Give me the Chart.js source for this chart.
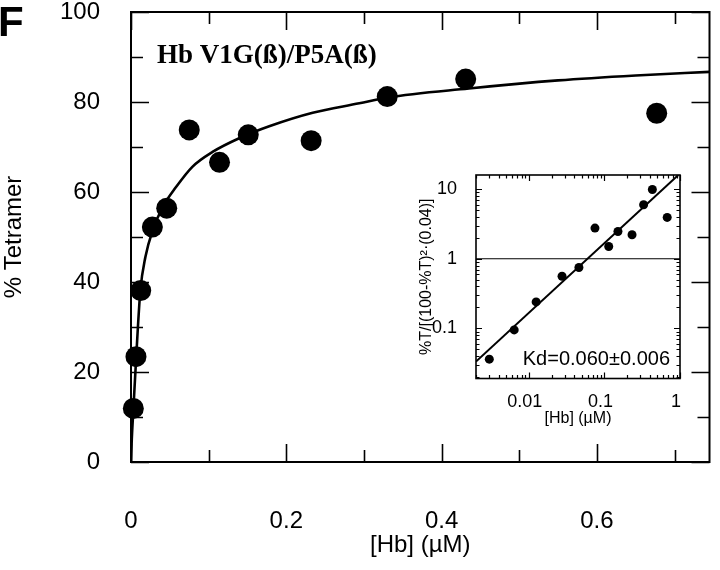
<!DOCTYPE html>
<html><head><meta charset="utf-8">
<script src="https://cdn.jsdelivr.net/npm/chart.js@4.4.1/dist/chart.umd.min.js"></script>
<style>
html,body{margin:0;padding:0;background:#fff;}
#wrap{position:relative;width:720px;height:570px;overflow:hidden;}
#main{position:absolute;left:0;top:0;}
#inset{position:absolute;left:410px;top:166px;}
</style></head><body>
<div id="wrap">
<canvas id="main" width="720" height="570" style="width:720px;height:570px"></canvas>
<canvas id="inset" width="280" height="264" style="width:280px;height:264px"></canvas>
</div>
<script>
// ---- data ----
const hb = [0.003, 0.0064, 0.0125, 0.0275, 0.046, 0.075, 0.114, 0.151, 0.232, 0.33, 0.431, 0.677];   // [Hb] (µM)
const pctTetramer = [11.9, 23.4, 38.1, 52.2, 56.4, 73.8, 66.6, 72.7, 71.4, 81.2, 85.1, 77.5];      // % Tetramer
const fitX = [0, 0.001, 0.003, 0.0067, 0.012, 0.0186, 0.028, 0.041, 0.058, 0.079, 0.105, 0.14, 0.178, 0.234, 0.294, 0.33, 0.435, 0.55, 0.65, 0.745];
const fitY = [0, 5, 11.5, 23.3, 38, 45.6, 51.5, 56.7, 61.1, 65.6, 68.9, 72, 74.6, 77.6, 79.7, 81, 83, 84.8, 85.9, 86.7];
// inset: %T/[(100-%T)^2·(0.04)] versus [Hb]
const insetRatio = [0.036, 0.095, 0.24, 0.56, 0.75, 2.76, 1.50, 2.47, 2.21, 5.98, 9.9, 3.93];
const insetFitX = [0.002, 0.95];
const insetFitY = [0.0333, 16];
const refLevel = 1;
// ticks
const xMajorTicks = [0, 0.2, 0.4, 0.6];
const xMinorTicks = [0.1, 0.3, 0.5, 0.7];
const yMajorTicks = [0, 20, 40, 60, 80, 100];
const yMinorTicks = [10, 30, 50, 70, 90];
const insetXMajor = [0.01, 0.1, 1];
const insetYMajor = [0.1, 1, 10];
const panelLetter = 'F';
const panelTitle = 'Hb V1G(ß)/P5A(ß)';
const kdText = 'Kd=0.060±0.006';

const SANS = "'Liberation Sans', Arial, Helvetica, sans-serif";
const SERIF = "'Liberation Serif', 'Times New Roman', serif";
Chart.defaults.font.family = SANS;
Chart.defaults.color = '#000';

function minorLog(majors){
  const out = [];
  majors.forEach(m => { for (let k = 2; k <= 9; k++) { out.push(+(m * k / 10).toPrecision(3)); } });
  return out;
}

function noOverflow(s){
  s.paddingTop = 0; s.paddingBottom = 0; s.paddingLeft = 0; s.paddingRight = 0;
}

function frameTicks(o){
  return {
    id: 'frameTicks',
    afterDatasetsDraw(chart){
      const {ctx, chartArea: a, scales: {x, y}} = chart;
      ctx.save();
      ctx.strokeStyle = '#000';
      ctx.lineWidth = o.tick;
      ctx.beginPath();
      const xt = (vals, len) => vals.forEach(v => {
        const p = Math.round(x.getPixelForValue(v)) + 0.5;
        if (p < a.left - 0.5 || p > a.right + 0.5) return;
        ctx.moveTo(p, a.bottom); ctx.lineTo(p, a.bottom - len);
        ctx.moveTo(p, a.top); ctx.lineTo(p, a.top + len);
      });
      const yt = (vals, len) => vals.forEach(v => {
        const p = Math.round(y.getPixelForValue(v)) + 0.5;
        if (p < a.top - 0.5 || p > a.bottom + 0.5) return;
        ctx.moveTo(a.left, p); ctx.lineTo(a.left + len, p);
        ctx.moveTo(a.right, p); ctx.lineTo(a.right - len, p);
      });
      xt(o.xMajor, o.major); xt(o.xMinor, o.minor);
      yt(o.yMajor, o.major); yt(o.yMinor, o.minor);
      ctx.stroke();
      ctx.lineWidth = o.frame;
      ctx.strokeRect(a.left, a.top, a.right - a.left, a.bottom - a.top);
      ctx.restore();
    }
  };
}

const mainText = {
  id: 'mainText',
  afterDraw(chart){
    const {ctx, chartArea: a} = chart;
    ctx.save();
    ctx.fillStyle = '#000';
    ctx.textBaseline = 'alphabetic';
    ctx.textAlign = 'left';
    ctx.font = 'bold 42px ' + SANS;
    ctx.fillText(panelLetter, -2, 36);
    ctx.font = 'bold 27px ' + SERIF;
    ctx.fillText(panelTitle, a.left + 26, a.top + 51);
    ctx.restore();
  }
};

const insetText = {
  id: 'insetText',
  afterDraw(chart){
    const {ctx, chartArea: a} = chart;
    ctx.save();
    ctx.fillStyle = '#000';
    ctx.textBaseline = 'alphabetic';
    ctx.textAlign = 'right';
    ctx.font = '20px ' + SANS;
    ctx.fillText(kdText, a.right - 10, a.bottom - 13.5);
    ctx.restore();
  }
};

new Chart(document.getElementById('main'), {
  type: 'scatter',
  data: {
    datasets: [
      {
        type: 'line',
        data: fitX.map((x, i) => ({x, y: fitY[i]})),
        borderColor: '#000', borderWidth: 2.6, pointRadius: 0,
        cubicInterpolationMode: 'monotone', fill: false, order: 2
      },
      {
        data: hb.map((x, i) => ({x, y: pctTetramer[i]})),
        backgroundColor: '#000', borderColor: '#000', borderWidth: 0,
        pointRadius: 10.5, pointHoverRadius: 10.5, clip: false, order: 1
      }
    ]
  },
  options: {
    responsive: false, animation: false, events: [],
    layout: {padding: {top: 12, right: 7, left: 0, bottom: 0}},
    plugins: {legend: {display: false}, tooltip: {enabled: false}},
    scales: {
      x: {
        type: 'linear', min: 0, max: 0.745,
        grid: {display: false}, border: {display: false},
        afterBuildTicks: s => { s.ticks = xMajorTicks.map(v => ({value: v})); },
        ticks: {font: {size: 24}, color: '#000', padding: 37, maxRotation: 0, autoSkip: false,
                callback: v => String(v)},
        title: {display: true, text: '[Hb] (µM)', font: {size: 24}, color: '#000', padding: {top: 0, bottom: 10}},
        afterFit: s => { s.height = 108; noOverflow(s); }
      },
      y: {
        type: 'linear', min: 0, max: 100,
        grid: {display: false}, border: {display: false},
        afterBuildTicks: s => { s.ticks = yMajorTicks.map(v => ({value: v})); },
        ticks: {font: {size: 24}, color: '#000', padding: 23, autoSkip: false, callback: v => String(v)},
        title: {display: true, text: '% Tetramer', font: {size: 24}, color: '#000', padding: {top: 0, bottom: 0}},
        afterFit: s => { s.width = 131; noOverflow(s); }
      }
    }
  },
  plugins: [frameTicks({xMajor: xMajorTicks, xMinor: xMinorTicks, yMajor: yMajorTicks, yMinor: yMinorTicks,
                        major: 18, minor: 12, tick: 1.6, frame: 2}), mainText]
});

new Chart(document.getElementById('inset'), {
  type: 'scatter',
  data: {
    datasets: [
      {
        type: 'line',
        data: [{x: 0.002, y: refLevel}, {x: 1, y: refLevel}],
        borderColor: '#000', borderWidth: 1.2, pointRadius: 0, fill: false, order: 3
      },
      {
        type: 'line',
        data: insetFitX.map((x, i) => ({x, y: insetFitY[i]})),
        borderColor: '#000', borderWidth: 2, pointRadius: 0, fill: false, order: 2
      },
      {
        data: hb.map((x, i) => ({x, y: insetRatio[i]})),
        backgroundColor: '#000', borderColor: '#000', borderWidth: 0,
        pointRadius: 4.5, pointHoverRadius: 4.5, clip: false, order: 1
      }
    ]
  },
  options: {
    responsive: false, animation: false, events: [],
    layout: {padding: {top: 9, right: 10, left: 0, bottom: 0}},
    plugins: {legend: {display: false}, tooltip: {enabled: false}},
    scales: {
      x: {
        type: 'logarithmic', min: 0.002, max: 1,
        grid: {display: false}, border: {display: false},
        afterBuildTicks: s => { s.ticks = insetXMajor.map(v => ({value: v})); },
        ticks: {font: {size: 18}, color: '#000', padding: 5, labelOffset: -4, maxRotation: 0, autoSkip: false,
                callback: v => String(v)},
        title: {display: true, text: '[Hb] (µM)', font: {size: 16}, color: '#000', padding: {top: 0, bottom: 2}},
        afterFit: s => { s.height = 51.5; noOverflow(s); }
      },
      y: {
        type: 'logarithmic', min: 0.019, max: 16,
        grid: {display: false}, border: {display: false},
        afterBuildTicks: s => { s.ticks = insetYMajor.map(v => ({value: v})); },
        ticks: {font: {size: 18}, color: '#000', padding: 11, autoSkip: false, callback: v => String(v)},
        title: {display: true, text: '%T/[(100-%T)²·(0.04)]', font: {size: 16}, color: '#000', padding: {top: 7, bottom: 0}},
        afterFit: s => { s.width = 66; noOverflow(s); }
      }
    }
  },
  plugins: [frameTicks({xMajor: insetXMajor, xMinor: minorLog([0.01, 0.1, 1]), yMajor: insetYMajor,
                        yMinor: minorLog([0.1, 1, 10, 100]), major: 6, minor: 3.5, tick: 1.2, frame: 1.6}), insetText]
});
</script>
</body></html>
